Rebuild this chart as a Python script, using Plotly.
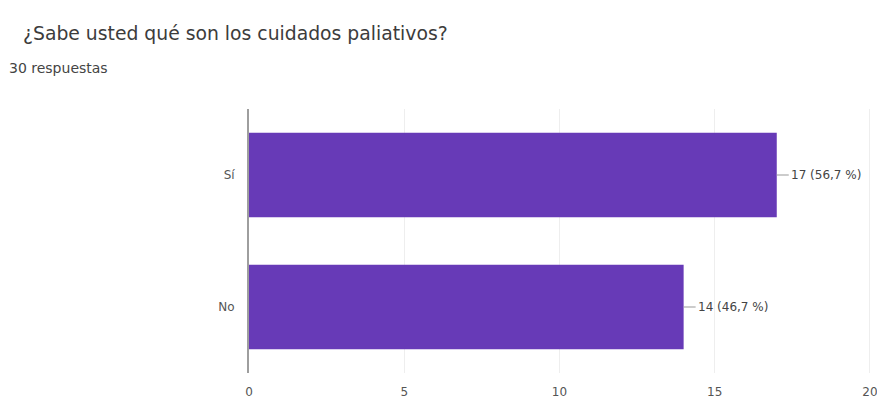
import plotly.graph_objects as go

# Survey answers
categories = ["Sí", "No"]
counts = [17, 14]
labels = ["17 (56,7 %)", "14 (46,7 %)"]
x_ticks = [0, 5, 10, 15, 20]

title = "¿Sabe usted qué son los cuidados paliativos?"
subtitle = "30 respuestas"

bar_color = "#673ab7"
font_family = "DejaVu Sans, Roboto, Arial, sans-serif"

fig = go.Figure(
    go.Bar(
        x=counts,
        y=categories,
        orientation="h",
        marker=dict(color=bar_color, line=dict(width=0)),
        width=0.64,
        hoverinfo="skip",
    )
)

# value labels joined to the bar ends by a short leader line
for c, cat, lab in zip(counts, categories, labels):
    fig.add_annotation(
        x=c, y=cat, xref="x", yref="y",
        text=lab, showarrow=True, arrowhead=0, arrowwidth=1,
        arrowcolor="#999999", ax=12, ay=0, xanchor="left",
        font=dict(size=12, color="#444444", family=font_family),
    )

fig.add_annotation(
    x=21, y=33, xref="paper", yref="paper", xanchor="left", yanchor="middle",
    text=title, showarrow=False,
    font=dict(size=18.8, color="#3c3c3c", family=font_family),
)
fig.add_annotation(
    x=7, y=68, xref="paper", yref="paper", xanchor="left", yanchor="middle",
    text=subtitle, showarrow=False,
    font=dict(size=14, color="#444444", family=font_family),
)

# place the title annotations in pixel space
W, H = 877, 401
L, R, T, B = 249, 4, 109, 28
for a in fig.layout.annotations[-2:]:
    px, py = a.x, a.y
    a.x = (px - L) / (W - L - R)
    a.y = 1 + (T - py) / (H - T - B)

fig.update_layout(
    width=W, height=H,
    margin=dict(l=L, r=R, t=T, b=B, autoexpand=False),
    paper_bgcolor="white", plot_bgcolor="white",
    showlegend=False,
    font=dict(family=font_family, size=12, color="#555555"),
    xaxis=dict(
        range=[0, 20.1], tickvals=x_ticks, showgrid=True, gridcolor="#eeeeee",
        zeroline=False, showline=False, ticks="", ticklabelstandoff=10,
        ticklabeloverflow="allow", automargin=False,
        tickfont=dict(size=12, color="#555555"), fixedrange=True,
    ),
    yaxis=dict(
        categoryorder="array", categoryarray=categories[::-1],
        showgrid=False, zeroline=False, ticks="", showline=False,
        ticklabelstandoff=10, automargin=False,
        tickfont=dict(size=12, color="#555555"), fixedrange=True,
    ),
)

# zero line drawn as the left axis line
fig.update_yaxes(showline=True, linecolor="#9e9e9e", linewidth=2)

fig.write_html("out.html")
